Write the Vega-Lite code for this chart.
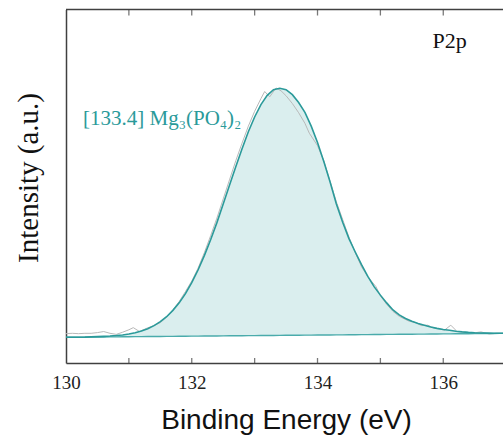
{
  "$schema": "https://vega.github.io/schema/vega-lite/v6.json",
  "width": 437,
  "height": 353.5,
  "autosize": "none",
  "padding": {"left": 66, "top": 9.5, "right": 0, "bottom": 73},
  "background": "white",
  "config": {"view": {"stroke": null}},
  "datasets": {
    "fit": [
      {"x": 130.0, "fit": 7.27, "base": 7.27}, {"x": 130.1, "fit": 7.29, "base": 7.29}, {"x": 130.2, "fit": 7.30, "base": 7.30},
      {"x": 130.3, "fit": 7.32, "base": 7.32}, {"x": 130.4, "fit": 7.39, "base": 7.33}, {"x": 130.5, "fit": 7.45, "base": 7.35},
      {"x": 130.6, "fit": 7.52, "base": 7.37}, {"x": 130.7, "fit": 7.62, "base": 7.38}, {"x": 130.8, "fit": 7.76, "base": 7.40},
      {"x": 130.9, "fit": 7.94, "base": 7.41}, {"x": 131.0, "fit": 8.21, "base": 7.43}, {"x": 131.1, "fit": 8.57, "base": 7.45},
      {"x": 131.2, "fit": 9.06, "base": 7.46}, {"x": 131.3, "fit": 9.71, "base": 7.48}, {"x": 131.4, "fit": 10.56, "base": 7.49},
      {"x": 131.5, "fit": 11.68, "base": 7.51}, {"x": 131.6, "fit": 13.10, "base": 7.53}, {"x": 131.7, "fit": 14.89, "base": 7.54},
      {"x": 131.8, "fit": 17.01, "base": 7.56}, {"x": 131.9, "fit": 19.61, "base": 7.57}, {"x": 132.0, "fit": 22.71, "base": 7.59},
      {"x": 132.1, "fit": 26.30, "base": 7.61}, {"x": 132.2, "fit": 30.37, "base": 7.62}, {"x": 132.3, "fit": 34.87, "base": 7.64},
      {"x": 132.4, "fit": 39.71, "base": 7.65}, {"x": 132.5, "fit": 45.0, "base": 7.67}, {"x": 132.6, "fit": 50.3, "base": 7.69},
      {"x": 132.7, "fit": 55.5, "base": 7.70}, {"x": 132.8, "fit": 60.6, "base": 7.72}, {"x": 132.9, "fit": 65.4, "base": 7.73},
      {"x": 133.0, "fit": 69.6, "base": 7.75}, {"x": 133.1, "fit": 73.1, "base": 7.77}, {"x": 133.2, "fit": 75.7, "base": 7.78},
      {"x": 133.3, "fit": 77.3, "base": 7.80}, {"x": 133.4, "fit": 77.7, "base": 7.81}, {"x": 133.5, "fit": 77.3, "base": 7.83},
      {"x": 133.6, "fit": 75.9, "base": 7.85}, {"x": 133.7, "fit": 73.7, "base": 7.86}, {"x": 133.8, "fit": 70.9, "base": 7.88},
      {"x": 133.9, "fit": 67.0, "base": 7.89}, {"x": 134.0, "fit": 62.4, "base": 7.91}, {"x": 134.1, "fit": 57.0, "base": 7.93},
      {"x": 134.2, "fit": 51.2, "base": 7.94}, {"x": 134.3, "fit": 45.0, "base": 7.96}, {"x": 134.4, "fit": 39.8, "base": 7.97},
      {"x": 134.5, "fit": 35.2, "base": 7.99}, {"x": 134.6, "fit": 31.4, "base": 8.01}, {"x": 134.7, "fit": 27.8, "base": 8.02},
      {"x": 134.8, "fit": 24.5, "base": 8.04}, {"x": 134.9, "fit": 21.6, "base": 8.05}, {"x": 135.0, "fit": 19.2, "base": 8.07},
      {"x": 135.1, "fit": 17.0, "base": 8.09}, {"x": 135.2, "fit": 15.0, "base": 8.10}, {"x": 135.3, "fit": 13.6, "base": 8.12},
      {"x": 135.4, "fit": 12.6, "base": 8.13}, {"x": 135.5, "fit": 11.8, "base": 8.15}, {"x": 135.6, "fit": 11.2, "base": 8.17},
      {"x": 135.7, "fit": 10.7, "base": 8.18}, {"x": 135.8, "fit": 10.2, "base": 8.20}, {"x": 135.9, "fit": 9.8, "base": 8.21},
      {"x": 136.0, "fit": 9.5, "base": 8.23}, {"x": 136.1, "fit": 9.25, "base": 8.25}, {"x": 136.2, "fit": 9.0, "base": 8.26},
      {"x": 136.3, "fit": 8.8, "base": 8.28}, {"x": 136.4, "fit": 8.65, "base": 8.29}, {"x": 136.5, "fit": 8.55, "base": 8.31},
      {"x": 136.6, "fit": 8.5, "base": 8.33}, {"x": 136.7, "fit": 8.45, "base": 8.34}, {"x": 136.8, "fit": 8.42, "base": 8.36},
      {"x": 136.9, "fit": 8.4, "base": 8.37}, {"x": 137.0, "fit": 8.4, "base": 8.39}
    ],
    "raw": [
      {"x": 130.0, "y": 8.3}, {"x": 130.1, "y": 8.4}, {"x": 130.2, "y": 8.3}, {"x": 130.3, "y": 8.4}, {"x": 130.4, "y": 8.4},
      {"x": 130.5, "y": 8.6}, {"x": 130.6, "y": 8.9}, {"x": 130.7, "y": 8.4}, {"x": 130.8, "y": 8.1}, {"x": 130.9, "y": 8.7},
      {"x": 131.0, "y": 9.4}, {"x": 131.07, "y": 10.0}, {"x": 131.17, "y": 8.9}, {"x": 131.28, "y": 9.8}, {"x": 131.4, "y": 10.6},
      {"x": 131.5, "y": 11.4}, {"x": 131.6, "y": 13.0}, {"x": 131.7, "y": 15.0}, {"x": 131.8, "y": 17.4}, {"x": 131.9, "y": 20.2},
      {"x": 132.0, "y": 23.2}, {"x": 132.1, "y": 26.8}, {"x": 132.2, "y": 31.2}, {"x": 132.3, "y": 36.0}, {"x": 132.4, "y": 41.0},
      {"x": 132.5, "y": 46.4}, {"x": 132.6, "y": 51.8}, {"x": 132.7, "y": 57.2}, {"x": 132.8, "y": 62.2}, {"x": 132.9, "y": 67.0},
      {"x": 133.0, "y": 71.2}, {"x": 133.1, "y": 74.8}, {"x": 133.16, "y": 76.8}, {"x": 133.24, "y": 75.3}, {"x": 133.34, "y": 77.8},
      {"x": 133.42, "y": 77.0}, {"x": 133.5, "y": 75.6}, {"x": 133.6, "y": 73.4}, {"x": 133.7, "y": 70.8}, {"x": 133.8, "y": 67.8},
      {"x": 133.87, "y": 65.0}, {"x": 134.0, "y": 61.5}, {"x": 134.1, "y": 57.2}, {"x": 134.2, "y": 51.4}, {"x": 134.3, "y": 45.6},
      {"x": 134.4, "y": 40.6}, {"x": 134.5, "y": 35.6}, {"x": 134.6, "y": 31.2}, {"x": 134.7, "y": 27.2}, {"x": 134.8, "y": 24.4},
      {"x": 134.93, "y": 21.6}, {"x": 135.0, "y": 19.0}, {"x": 135.1, "y": 16.6}, {"x": 135.2, "y": 14.6}, {"x": 135.3, "y": 13.2},
      {"x": 135.4, "y": 12.3}, {"x": 135.46, "y": 11.8}, {"x": 135.55, "y": 11.5}, {"x": 135.65, "y": 10.6}, {"x": 135.75, "y": 10.7},
      {"x": 135.85, "y": 9.9}, {"x": 135.95, "y": 9.6}, {"x": 136.02, "y": 9.3}, {"x": 136.12, "y": 10.7}, {"x": 136.22, "y": 8.9},
      {"x": 136.3, "y": 8.8}, {"x": 136.4, "y": 8.6}, {"x": 136.52, "y": 8.6}, {"x": 136.6, "y": 8.8}, {"x": 136.73, "y": 8.2},
      {"x": 136.85, "y": 8.4}, {"x": 137.0, "y": 8.4}
    ],
    "marks": [
      {"v": 131}, {"v": 132}, {"v": 133}, {"v": 134}, {"v": 135}, {"v": 136}
    ],
    "notes": [
      {"x": 136.1, "y": 89.1, "label": "P2p", "kind": "core"},
      {"x": 130.27, "y": 67.3, "label": "[133.4] Mg₃(PO₄)₂", "kind": "peak"}
    ]
  },
  "resolve": {"axis": {"x": "independent", "y": "independent"}},
  "layer": [
    {
      "data": {"name": "fit"},
      "mark": {"type": "area", "fill": "#daeeee", "clip": true},
      "encoding": {
        "x": {
          "field": "x", "type": "quantitative",
          "scale": {"domain": [130, 136.95], "nice": false, "zero": false},
          "axis": {
            "orient": "bottom", "title": "Binding Energy (eV)",
            "values": [130, 132, 134, 136],
            "grid": false, "ticks": false, "tickSize": 0,
            "domainColor": "#404040", "domainWidth": 1.5,
            "labelFont": "Liberation Serif", "labelFontSize": 19, "labelColor": "#222222",
            "labelFlush": false, "labelPadding": 25, "labelBaseline": "alphabetic", "labelOverlap": false,
            "titleFont": "Liberation Sans", "titleFontSize": 28, "titleFontWeight": "normal",
            "titleColor": "#111111", "titleBaseline": "alphabetic", "titleY": 65, "titleX": 220
          }
        },
        "y": {
          "field": "fit", "type": "quantitative",
          "scale": {"domain": [0, 100], "nice": false, "zero": false},
          "axis": {
            "orient": "left", "title": "Intensity (a.u.)", "ticks": false, "labels": false, "grid": false,
            "domainColor": "#404040", "domainWidth": 1.5,
            "titleFont": "Liberation Serif", "titleFontSize": 29, "titleFontWeight": "normal",
            "titleColor": "#111111", "titleBaseline": "middle", "titleX": -38, "titleY": 168
          }
        },
        "y2": {"field": "base"}
      }
    },
    {
      "data": {"name": "marks"},
      "mark": {"type": "tick", "orient": "vertical", "color": "#404040", "thickness": 1.3, "size": 5},
      "encoding": {
        "x": {"field": "v", "type": "quantitative", "axis": null},
        "y": {"datum": 0.71, "type": "quantitative", "axis": null}
      }
    },
    {
      "data": {"name": "marks"},
      "mark": {"type": "tick", "orient": "vertical", "color": "#404040", "thickness": 1.3, "size": 6},
      "encoding": {
        "x": {"field": "v", "type": "quantitative", "axis": null},
        "y": {"datum": 99.15, "type": "quantitative", "axis": null}
      }
    },
    {
      "data": {"name": "marks"},
      "transform": [{"filter": "datum.v == 131"}],
      "mark": {"type": "rule", "color": "#404040", "strokeWidth": 1.5},
      "encoding": {
        "x": {"datum": 130, "type": "quantitative", "axis": null},
        "x2": {"datum": 136.95},
        "y": {"datum": 100, "type": "quantitative", "axis": null}
      }
    },
    {
      "data": {"name": "raw"},
      "mark": {"type": "line", "color": "#b8b8b8", "strokeWidth": 1, "clip": true},
      "encoding": {
        "x": {"field": "x", "type": "quantitative", "axis": null},
        "y": {"field": "y", "type": "quantitative", "axis": null}
      }
    },
    {
      "data": {"name": "fit"},
      "mark": {"type": "line", "color": "#4aabab", "strokeWidth": 1.4, "clip": true},
      "encoding": {
        "x": {"field": "x", "type": "quantitative", "axis": null},
        "y": {"field": "base", "type": "quantitative", "axis": null}
      }
    },
    {
      "data": {"name": "fit"},
      "mark": {"type": "line", "color": "#2b9a9a", "strokeWidth": 1.6, "clip": true},
      "encoding": {
        "x": {"field": "x", "type": "quantitative", "axis": null},
        "y": {"field": "fit", "type": "quantitative", "axis": null}
      }
    },
    {
      "data": {"name": "notes"},
      "transform": [{"filter": "datum.kind == 'core'"}],
      "mark": {"type": "text", "font": "Liberation Serif", "fontSize": 22, "color": "#111111", "align": "center", "baseline": "alphabetic"},
      "encoding": {
        "x": {"field": "x", "type": "quantitative", "axis": null},
        "y": {"field": "y", "type": "quantitative", "axis": null},
        "text": {"field": "label"}
      }
    },
    {
      "data": {"name": "notes"},
      "transform": [{"filter": "datum.kind == 'peak'"}],
      "mark": {"type": "text", "font": "Liberation Serif", "fontSize": 21, "color": "#2a9a9a", "align": "left", "baseline": "alphabetic"},
      "encoding": {
        "x": {"field": "x", "type": "quantitative", "axis": null},
        "y": {"field": "y", "type": "quantitative", "axis": null},
        "text": {"field": "label"}
      }
    }
  ]
}
